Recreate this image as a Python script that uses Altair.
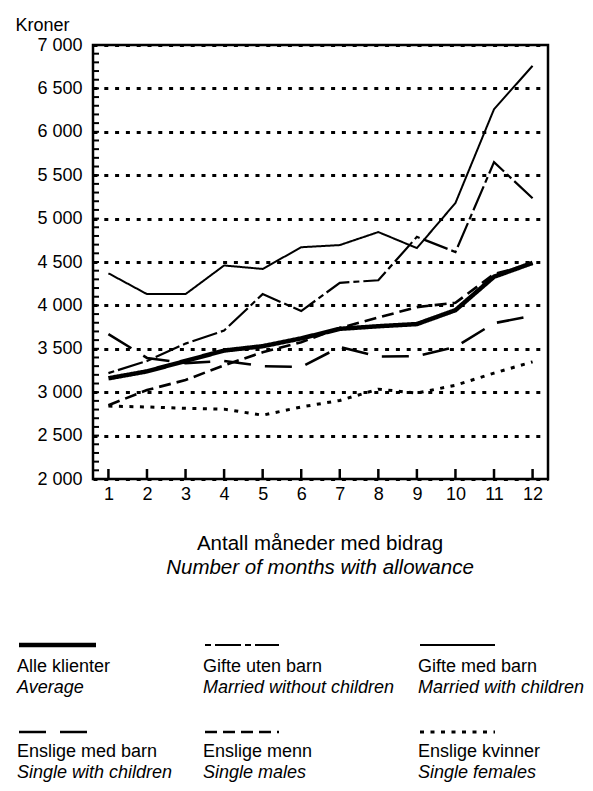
import altair as alt
import pandas as pd

months = list(range(1, 13))
alle_klienter = [3160, 3240, 3360, 3480, 3530, 3620, 3730, 3760, 3785, 3945, 4330, 4490]
gifte_uten_barn = [3220, 3360, 3560, 3710, 4130, 3935, 4260, 4290, 4790, 4615, 5650, 5235]
gifte_med_barn = [4370, 4130, 4130, 4460, 4420, 4670, 4695, 4845, 4660, 5180, 6260, 6760]
enslige_med_barn = [3670, 3395, 3335, 3360, 3300, 3290, 3520, 3410, 3415, 3520, 3795, 3880]
enslige_menn = [2850, 3025, 3140, 3310, 3460, 3575, 3740, 3860, 3980, 4030, 4360, 4480]
enslige_kvinner = [2840, 2830, 2815, 2805, 2735, 2830, 2905, 3035, 2990, 3080, 3220, 3350]

y_ticks = [2000, 2500, 3000, 3500, 4000, 4500, 5000, 5500, 6000, 6500, 7000]
minor_ticks = list(range(2000, 7001, 100))

labels_no = ["Alle klienter", "Gifte uten barn", "Gifte med barn",
             "Enslige med barn", "Enslige menn", "Enslige kvinner"]
labels_en = ["Average", "Married without children", "Married with children",
             "Single with children", "Single males", "Single females"]
series_values = [alle_klienter, gifte_uten_barn, gifte_med_barn,
                 enslige_med_barn, enslige_menn, enslige_kvinner]

# styles per series (dash, width)
styles = [
    ([1, 0], 4.5),
    ([6, 4, 26, 4], 2.2),
    ([1, 0], 2),
    ([27, 14], 2.6),
    ([12, 6], 2.6),
    ([4, 6.5], 3),
]

W, H = 455, 434
OX, OY = 93, 45  # plot origin on page
FONT = "Liberation Sans"

xscale = alt.Scale(domain=[0.6, 12.4], nice=False, zero=False)
yscale = alt.Scale(domain=[2000, 7000], nice=False, zero=False)

one = pd.DataFrame({"a": [0]})

base = alt.Chart(pd.DataFrame({"m": months, "v": alle_klienter}))

axes_layer = base.mark_point(opacity=0).encode(
    x=alt.X("m:Q", scale=xscale, axis=alt.Axis(
        values=months, tickSize=0, labelPadding=6, domain=False, grid=False,
        labelFontSize=18, labelColor="black", labelFont=FONT, title=None)),
    y=alt.Y("v:Q", scale=yscale, axis=alt.Axis(
        values=y_ticks, grid=True, gridDash=[4, 6.8], gridWidth=3.2, gridColor="black",
        gridOpacity=1, domain=False, tickSize=0, labelPadding=11,
        labelExpr="replace(format(datum.value, ','), ',', ' ')",
        labelFontSize=18, labelColor="black", labelFont=FONT,
        title="Kroner", titleAngle=0, titleX=-78, titleY=-20, titleAlign="left",
        titleBaseline="middle", titleFontSize=18, titleFontWeight="normal",
        titleFont=FONT, titleColor="black")),
)

layers = [axes_layer]

# minor ticks on left axis (inside)
layers.append(
    alt.Chart(pd.DataFrame({"t": minor_ticks})).mark_rule(color="black", strokeWidth=2).encode(
        y=alt.Y("t:Q", scale=yscale), x=alt.value(0), x2=alt.value(6))
)
# x ticks (inside)
layers.append(
    alt.Chart(pd.DataFrame({"m": months})).mark_rule(color="black", strokeWidth=2.5).encode(
        x=alt.X("m:Q", scale=xscale), y=alt.value(H), y2=alt.value(H - 10))
)

order = [5, 4, 3, 1, 2, 0]
for i in order:
    dash, w = styles[i]
    df = pd.DataFrame({"m": months, "v": series_values[i]})
    layers.append(
        alt.Chart(df).mark_line(color="black", strokeWidth=w, strokeDash=dash,
                                strokeJoin="miter").encode(
            x=alt.X("m:Q", scale=xscale), y=alt.Y("v:Q", scale=yscale))
    )

# x-axis titles
TX = 320
layers.append(alt.Chart(one).mark_text(text="Antall måneder med bidrag", fontSize=20.5,
                                       font=FONT, align="center", baseline="middle",
                                       color="black").encode(
    x=alt.value(TX - OX), y=alt.value(544 - OY)))
layers.append(alt.Chart(one).mark_text(text="Number of months with allowance", fontSize=20.5,
                                       font=FONT, fontStyle="italic", align="center",
                                       baseline="middle", color="black").encode(
    x=alt.value(TX - OX), y=alt.value(568 - OY)))

# legend
col_x = [17, 203, 418]
sample_w = [77, 74, 75]
row_sample_y = [645, 732]
row_text_y = [667, 752]
for i in range(6):
    c, r = i % 3, i // 3
    dash, w = styles[i]
    layers.append(alt.Chart(one).mark_rule(color="black", strokeWidth=w, strokeDash=dash).encode(
        x=alt.value(col_x[c] + 2 - OX), x2=alt.value(col_x[c] + 2 + sample_w[c] - OX),
        y=alt.value(row_sample_y[r] - OY)))
    layers.append(alt.Chart(one).mark_text(text=labels_no[i], fontSize=18, font=FONT,
                                           align="left", baseline="middle", color="black").encode(
        x=alt.value(col_x[c] - OX), y=alt.value(row_text_y[r] - OY)))
    layers.append(alt.Chart(one).mark_text(text=labels_en[i], fontSize=18, font=FONT,
                                           fontStyle="italic", align="left", baseline="middle",
                                           color="black").encode(
        x=alt.value(col_x[c] - OX), y=alt.value(row_text_y[r] + 21 - OY)))

chart = alt.layer(*layers).properties(
    width=W, height=H,
    autosize=alt.AutoSizeParams(type="none"),
    padding={"left": OX - 8, "top": OY - 8, "right": 593 - 16 - (OX - 8) - W,
             "bottom": 791 - 16 - (OY - 8) - H},
    background="white",
).configure_view(stroke="black", strokeWidth=2.5)

chart.save("out.html", embed_options={"renderer": "svg", "actions": False})
